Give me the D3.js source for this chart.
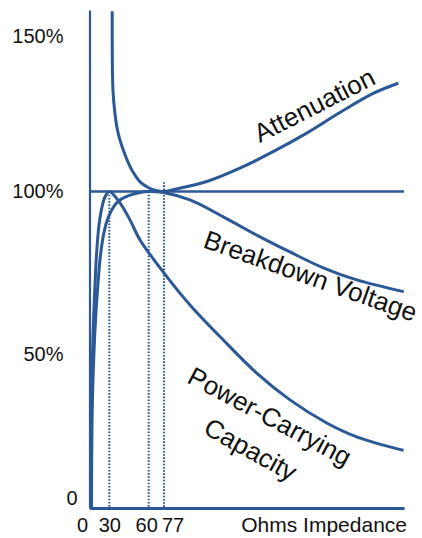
<!DOCTYPE html>
<html>
<head>
<meta charset="utf-8">
<script src="https://cdn.jsdelivr.net/npm/d3@7"></script>
<style>
  body { margin: 0; background: #fff; }
  text { font-family: 'Liberation Sans', Arial, Helvetica, sans-serif; fill: #111; }
</style>
</head>
<body>
<svg width="422" height="538"></svg>
<script>
// values (ohms, percent)
var ohmTicks = [0, 30, 60, 77]
var pctTicks = [0, 50, 100, 150]

var attenOhms = [32.2, 32.3, 32.8, 34.0, 35.9, 38.1, 41.2, 44.5, 48.0, 53.4, 59.5, 68.1, 77, 86.8, 122, 157, 192, 227, 262, 298, 324]
var attenPct = [158, 142, 132.6, 126.2, 120.4, 116.6, 112.7, 109.2, 106.3, 103.1, 101.3, 100.3, 100, 100.6, 103.2, 107.5, 112.8, 118.7, 125.3, 131.6, 134.8]

var breakOhms = [3, 3.8, 5.3, 8.3, 12.1, 16.7, 22, 28, 33.6, 38.1, 45.8, 53.4, 60, 76.2, 104.4, 139.5, 174.7, 209.8, 244.9, 280.1, 329.7]
var breakPct = [0, 28.6, 41.6, 57.4, 69.7, 80.5, 87.5, 91.8, 95.5, 97.4, 98.9, 99.7, 100, 99.7, 97.4, 92.2, 86.6, 81.4, 76.5, 72.8, 69.2]

var powerOhms = [2.8, 3.1, 3.8, 6.1, 8.3, 10.6, 14.4, 18.9, 23.5, 30, 38.1, 45.8, 53.4, 76.2, 104.4, 139.5, 174.7, 209.8, 248.5, 280.1, 329.5]
var powerPct = [0, 18.8, 41.6, 60.5, 71.2, 80.5, 89.7, 95.2, 98.3, 100, 96.5, 91.2, 85.1, 75.2, 65.1, 54.3, 43.8, 35.1, 27.6, 23.1, 18.7]

var refOhms = [0, 330]
var refPct = [100, 100]

var guideOhms = [30, 60, 77]
var guideTop = [100, 100, 103]

var curveNames = ['Attenuation', 'Breakdown Voltage', 'Power-Carrying', 'Capacity']

var blue = '#2b5897'

var svg = d3.select('svg')

// the diagram is not to scale, so both scales are piecewise
var x = d3.scaleLinear()
          .domain([0, 30, 60, 77, 330])
          .range([89.5, 109.3, 148.7, 164, 404])
var y = d3.scaleLinear()
          .domain([0, 50, 100, 150, 158.4])
          .range([508, 354, 191.5, 36, 10])

var zip = function (xs, ys) {
    return xs.map(function (d, i) { return [d, ys[i]] })
}

var line = d3.line()
             .x(function (d) { return x(d[0]) })
             .y(function (d) { return y(d[1]) })
             .curve(d3.curveCatmullRom.alpha(0.5))

// dotted guides down from the optimum points
svg.append('g')
   .selectAll('line')
   .data(guideOhms)
   .enter()
   .append('line')
   .attr('x1', function (d) { return x(d) })
   .attr('x2', function (d) { return x(d) })
   .attr('y1', function (d, i) { return y(guideTop[i]) })
   .attr('y2', y(0))
   .attr('stroke', blue)
   .attr('stroke-width', 2)
   .attr('stroke-dasharray', '1.6,1.6')

// axes
var yAxis = d3.axisLeft(y)
              .tickValues(pctTicks)
              .tickSize(0)
              .tickPadding(26)
              .tickFormat(function (d) { return d === 0 ? '0' : d + '%' })
var gy = svg.append('g')
            .attr('transform', 'translate(' + x(0) + ',0)')
            .call(yAxis)
gy.select('.domain').attr('stroke', blue).attr('stroke-width', 2.2)
gy.selectAll('text').attr('font-size', 20).attr('fill', '#111')
gy.selectAll('.tick')
  .filter(function (d) { return d === 0 })
  .select('text')
  .attr('x', -12)
  .attr('dy', '-0.2em')

var xAxis = d3.axisBottom(x)
              .tickValues(ohmTicks)
              .tickSize(0)
              .tickPadding(10)
var gx = svg.append('g')
            .attr('transform', 'translate(0,' + y(0) + ')')
            .call(xAxis)
gx.select('.domain').attr('stroke', blue).attr('stroke-width', 3.2)
gx.selectAll('text')
  .attr('font-size', 20)
  .attr('fill', '#111')
  .attr('dx', function (d) { return d === 0 ? -7.5 : d === 77 ? 8.5 : d === 60 ? -2.5 : 0 })

svg.append('text')
   .attr('x', 407)
   .attr('y', 532)
   .attr('text-anchor', 'end')
   .attr('font-size', 21)
   .text('Ohms Impedance')

// 100% reference line
svg.append('path')
   .attr('d', line(zip(refOhms, refPct)))
   .attr('fill', 'none')
   .attr('stroke', blue)
   .attr('stroke-width', 2.6)

// the three curves
var series = [zip(attenOhms, attenPct), zip(breakOhms, breakPct), zip(powerOhms, powerPct)]
svg.append('g')
   .selectAll('path')
   .data(series)
   .enter()
   .append('path')
   .attr('d', line)
   .attr('fill', 'none')
   .attr('stroke', blue)
   .attr('stroke-width', 3)
   .attr('stroke-linejoin', 'round')

// curve names, placed in data units and tilted along their curve
var notes = [
    { ohm: 178, pct: 115.6, angle: -27 },
    { ohm: 117, pct: 82.9, angle: 19.5 },
    { ohm: 100, pct: 40.9, angle: 28 },
    { ohm: 117, pct: 24.4, angle: 29 }
]
svg.append('g')
   .selectAll('text')
   .data(curveNames)
   .enter()
   .append('text')
   .attr('font-size', 26)
   .attr('transform', function (d, i) {
       var n = notes[i]
       return 'translate(' + x(n.ohm) + ',' + y(n.pct) + ') rotate(' + n.angle + ')'
   })
   .text(function (d) { return d })
</script>
</body>
</html>
